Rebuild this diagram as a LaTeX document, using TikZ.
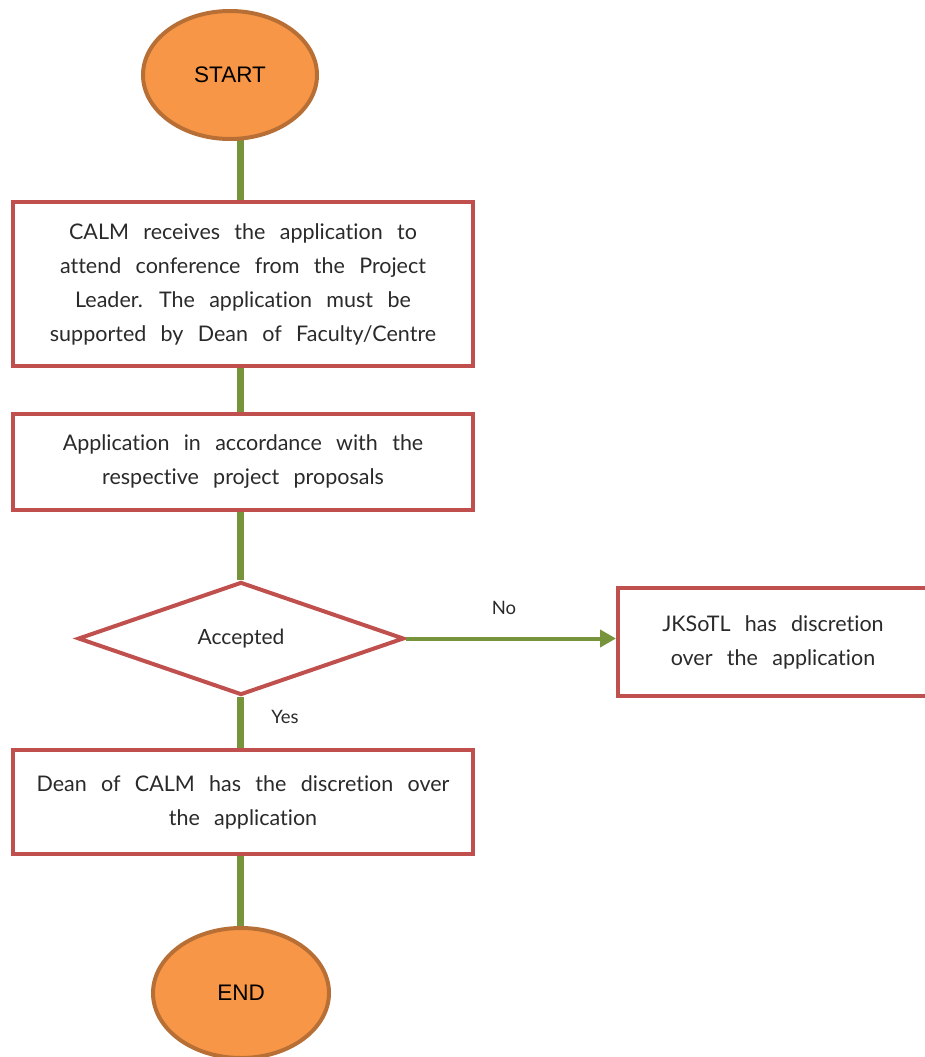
\documentclass[tikz,border=0pt]{standalone}
\usepackage{fontspec}
\setmainfont{Liberation Sans}
\newfontfamily\bodyfont{Lato}[WordSpace=2.6,Ligatures=NoCommon]
\usetikzlibrary{shapes.geometric,arrows.meta,backgrounds}
\definecolor{orfill}{HTML}{F79646}
\definecolor{ordraw}{HTML}{B86F36}
\definecolor{redb}{HTML}{C0504D}
\definecolor{grn}{HTML}{77933C}
\definecolor{txt}{HTML}{2A2A2A}
\tikzset{
  term/.style={ellipse, draw=ordraw, fill=orfill, line width=4pt, minimum width=174pt, minimum height=128pt, inner sep=0pt, font=\fontsize{22.5}{26}\selectfont},
  procbox/.style={rectangle, draw=redb, line width=4pt, fill=white, inner sep=0pt, align=center, text=txt, font=\bodyfont\fontsize{21.5}{34}\selectfont},
  decide/.style={diamond, draw=redb, line width=4pt, fill=white, inner sep=0pt, aspect=2.9, minimum width=326pt, minimum height=113pt, text=txt, font=\bodyfont\fontsize{21}{34}\selectfont},
  conn/.style={draw=grn, line width=7pt},
  lbl/.style={text=txt, font=\bodyfont\fontsize{18.5}{22}\selectfont}
}
\begin{document}
\begin{tikzpicture}[x=1pt,y=-1pt]
\useasboundingbox (0,0) rectangle (924,1057);
\node[term] (start) at (230,75) {START};
\node[procbox, minimum width=460pt, minimum height=164pt] (b1) at (243,284) {CALM receives the application to\\attend conference from the Project\\Leader. The application must be\\supported by Dean of Faculty/Centre};
\node[procbox, minimum width=460pt, minimum height=96pt] (b2) at (243,462) {Application in accordance with the\\respective project proposals};
\node[decide] (dec) at (241,638.5) {Accepted};
\node[procbox, minimum width=310pt, minimum height=108pt] (b4) at (773,642) {JKSoTL has discretion\\over the application};
\node[procbox, minimum width=460pt, minimum height=104pt] (b3) at (243,802) {Dean of CALM has the discretion over\\the application};
\node[term, minimum width=176pt, minimum height=130pt] (end) at (241,993) {END};
\begin{pgfonlayer}{background}
\coordinate (s1) at (240,100);
\draw[conn] (s1) -- (s1 |- b1.north);
\draw[conn] (s1 |- b1.south) -- (s1 |- b2.north);
\draw[conn] (s1 |- b2.south) -- (s1 |- dec.north);
\draw[conn] (s1 |- dec.south) -- (s1 |- b3.north);
\draw[conn] (s1 |- b3.south) -- (s1 |- end.center);
\end{pgfonlayer}
\draw[draw=grn, line width=4pt, -{Triangle[length=16pt,width=17pt]}] (dec.east) -- (dec.east -| b4.west);
\node[lbl] (no) at (504,608) {No};
\node[lbl] (yes) at (285,717) {Yes};
\end{tikzpicture}
\end{document}
